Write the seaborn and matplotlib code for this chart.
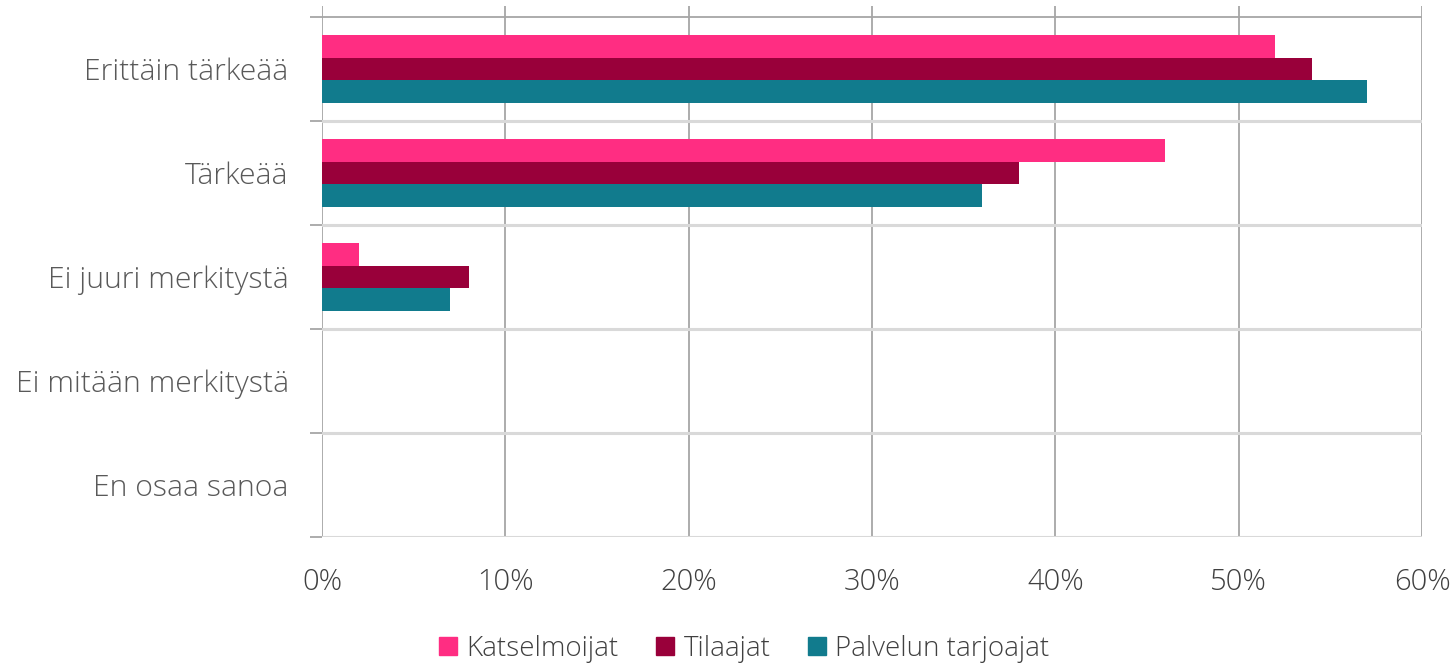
import pandas as pd
import seaborn as sns
import matplotlib.pyplot as plt
from matplotlib.lines import Line2D
from matplotlib.ticker import FuncFormatter

# Data (percent)
categories = ['Erittäin tärkeää', 'Tärkeää', 'Ei juuri merkitystä',
              'Ei mitään merkitystä', 'En osaa sanoa']
series = ['Katselmoijat', 'Tilaajat', 'Palvelun tarjoajat']
katselmoijat = [52, 46, 2, 0, 0]
tilaajat = [54, 38, 8, 0, 0]
palvelun_tarjoajat = [57, 36, 7, 0, 0]
colors = ['#FF2D82', '#99003A', '#117B8D']

rows = []
for name, vals in zip(series, [katselmoijat, tilaajat, palvelun_tarjoajat]):
    for cat, v in zip(categories, vals):
        rows.append({'category': cat, 'group': name, 'value': v})
df = pd.DataFrame(rows)

sns.set_style('white')
plt.rcParams['font.family'] = ['Open Sans', 'DejaVu Sans']
plt.rcParams['font.weight'] = 'light'
text_color = '#595959'
dark_line = '#a6a6a6'
light_line = '#d9d9d9'

fig = plt.figure(figsize=(14.56, 6.64), dpi=100)
ax = fig.add_axes([322 / 1456, 1 - 537 / 664, 1100 / 1456, 531 / 664])

sns.barplot(data=df, y='category', x='value', hue='group', order=categories,
            hue_order=series, palette=colors, saturation=1, orient='h', width=0.66,
            linewidth=0, legend=False, ax=ax, zorder=3)

ax.set_xlim(0, 60)
ax.set_ylim(len(categories) - 0.5, -0.5 - 11 / 104)
ax.set_xticks(range(0, 61, 10))
ax.xaxis.set_major_formatter(FuncFormatter(lambda v, _: f'{v:.0f}%'))
ax.set_xlabel('')
ax.set_ylabel('')

for s in ax.spines.values():
    s.set_visible(False)

# vertical gridlines (darker)
for xv in range(0, 61, 10):
    ax.axvline(xv, color=dark_line, lw=1.3, zorder=1)

# category separators
bounds = [i - 0.5 for i in range(len(categories) + 1)]
for i, b in enumerate(bounds):
    ax.axhline(b, color=dark_line if i == 0 else light_line,
               lw=1.3 if i == 0 else 2.2, zorder=1)
ax.set_yticks(bounds, minor=True)
ax.tick_params(axis='y', which='minor', length=8.6, width=1.3, color=dark_line, left=True)
ax.tick_params(axis='y', which='major', length=0, pad=24, labelsize=21.7, labelcolor=text_color)
ax.tick_params(axis='x', which='major', length=0, pad=22, labelsize=21, labelcolor='#404040')
for lbl in ax.get_xticklabels() + ax.get_yticklabels():
    lbl.set_fontweight('light')

handles = [Line2D([], [], marker='s', linestyle='none', markersize=13,
                  markerfacecolor=c, markeredgecolor=c) for c in colors]
leg = fig.legend(handles, series, loc='center', bbox_to_anchor=(744 / 1456, 1 - 649 / 664),
                 ncol=3, frameon=False, fontsize=20, labelcolor='#404040',
                 handletextpad=0.3, columnspacing=1.33, handlelength=0.7)
for t in leg.get_texts():
    t.set_fontweight('light')

fig.savefig('out.png', dpi=100)
